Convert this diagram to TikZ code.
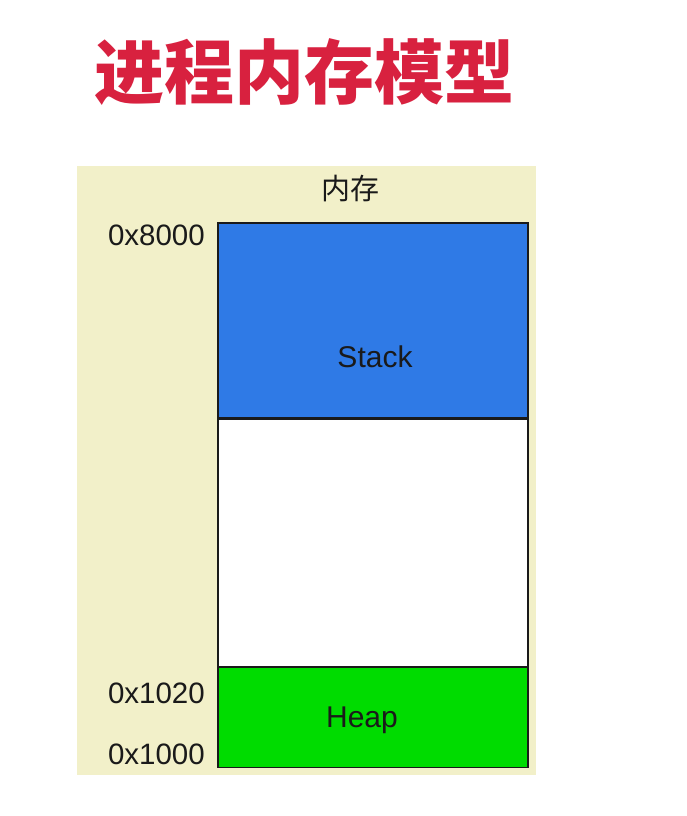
\documentclass[tikz,border=0pt]{standalone}
\usepackage{fontspec}
\setmainfont{Liberation Sans}
\newfontfamily\cjk{Noto Sans CJK SC}
\usetikzlibrary{positioning}
\definecolor{titlered}{HTML}{D8213F}
\definecolor{panelbg}{HTML}{F2F0C9}
\definecolor{stackblue}{HTML}{2F7AE6}
\definecolor{heapgreen}{HTML}{00DC00}
\definecolor{ink}{HTML}{1A1A1A}

\tikzset{
  seg/.style={draw=ink,line width=1.2pt,minimum width=310pt,inner sep=0pt,text=ink},
  seglbl/.style={font=\fontsize{30}{30}\selectfont,text=ink},
  addr/.style={anchor=east,inner sep=0pt,font=\fontsize{29.5}{29.5}\selectfont,text=ink}
}

\begin{document}
\begin{tikzpicture}[x=1pt,y=-1pt]
  \useasboundingbox (0,0) rectangle (687,816);
  \fill[white] (0,0) rectangle (687,816);
  % title
  \node[text=titlered,font=\cjk\bfseries\fontsize{70}{70}\selectfont] (title) at (304.5,72) {进程内存模型};
  % panel
  \fill[panelbg] (77,166) rectangle (536,775);
  \node[font=\cjk\fontsize{29}{29}\selectfont,text=ink] (mem) at (350,189) {内存};
  % segments
  \node[seg,fill=stackblue,minimum height=195pt] (stack) at (373,320.5) {};
  \node[seg,fill=white,minimum height=247pt,below=0pt of stack] (free) {};
  \node[seg,fill=heapgreen,minimum height=100pt,below=0pt of free] (heap) {};
  \node[seglbl] (stacklbl) at (375,357) {Stack};
  \node[seglbl] (heaplbl) at (362,720) {Heap};
  % addresses
  \node[addr] (a8000) at (205,235) {0x8000};
  \node[addr] (a1020) at (205,693) {0x1020};
  \node[addr] (a1000) at (205,754) {0x1000};
\end{tikzpicture}
\end{document}
